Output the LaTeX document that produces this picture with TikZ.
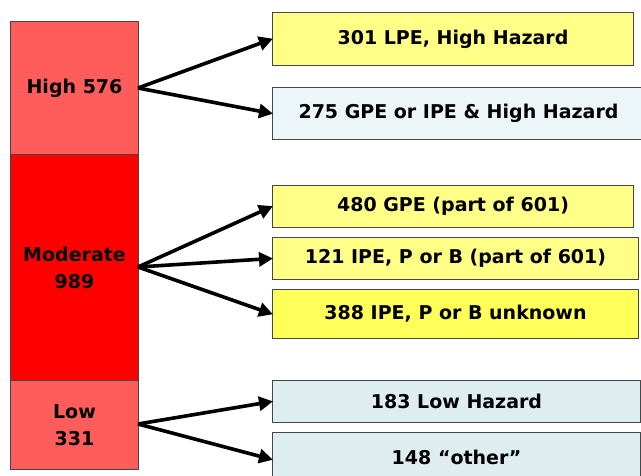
\documentclass[tikz,border=0pt]{standalone}
\usepackage{fontspec}
\setmainfont{DejaVu Sans}
\usetikzlibrary{arrows.meta}
\definecolor{hatchred}{RGB}{255,92,92}
\definecolor{modred}{RGB}{255,0,0}
\definecolor{paleyel}{RGB}{255,255,135}
\definecolor{dotyel}{RGB}{255,255,90}
\definecolor{paleblue}{RGB}{222,238,240}
\definecolor{paleblue2}{RGB}{236,245,248}
\definecolor{edge}{RGB}{70,70,70}
\begin{document}
\begin{tikzpicture}[x=1pt,y=-1pt,
  seg/.style={draw=edge, line width=1pt, anchor=north west, inner sep=0pt,
    font=\fontsize{19}{27}\selectfont\bfseries, align=center, minimum width=128pt},
  box/.style={draw=edge, line width=1pt, anchor=north west, inner sep=0pt,
    font=\fontsize{19}{22}\selectfont\bfseries, align=center},
  conn/.style={line width=3.6pt, -{Triangle[length=14pt,width=14pt]}, shorten >=-1pt}]
\useasboundingbox (0,0) rectangle (641,475);
% left column
\node[seg, fill=hatchred, minimum height=133pt] (high) at (10,21) {High 576};
\node[seg, fill=modred, minimum height=226pt] (mod) at (10,154) {Moderate\\989};
\node[seg, fill=hatchred, minimum height=89pt] (low) at (10,380) {Low\\331};
% right boxes
\node[box, fill=paleyel, minimum width=361pt, minimum height=53pt] (b1) at (272,12) {301 LPE, High Hazard};
\node[box, fill=paleblue2, minimum width=372pt, minimum height=52pt] (b2) at (272,87) {275 GPE or IPE \& High Hazard};
\node[box, fill=paleyel, minimum width=361pt, minimum height=42pt] (b3) at (272,185) {480 GPE (part of 601)};
\node[box, fill=paleyel, minimum width=366pt, minimum height=42pt] (b4) at (272,237) {121 IPE, P or B (part of 601)};
\node[box, fill=dotyel, minimum width=366pt, minimum height=49pt] (b5) at (272,289) {388 IPE, P or B unknown};
\node[box, fill=paleblue, minimum width=368pt, minimum height=42pt] (b6) at (272,380) {183 Low Hazard};
\node[box, fill=paleblue, minimum width=368pt, minimum height=50pt] (b7) at (272,432) {148 “other”};
% connectors
\coordinate (hs) at (138,88);
\coordinate (ms) at (138,267);
\coordinate (ls) at (138,424);
\draw[conn] (hs) -- (b1.west);
\draw[conn] (hs) -- (b2.west);
\draw[conn] (ms) -- (b3.west);
\draw[conn] (ms) -- (b4.west);
\draw[conn] (ms) -- (b5.west);
\draw[conn] (ls) -- (b6.west);
\draw[conn] (ls) -- ([yshift=-2pt]b7.west);
\end{tikzpicture}
\end{document}
